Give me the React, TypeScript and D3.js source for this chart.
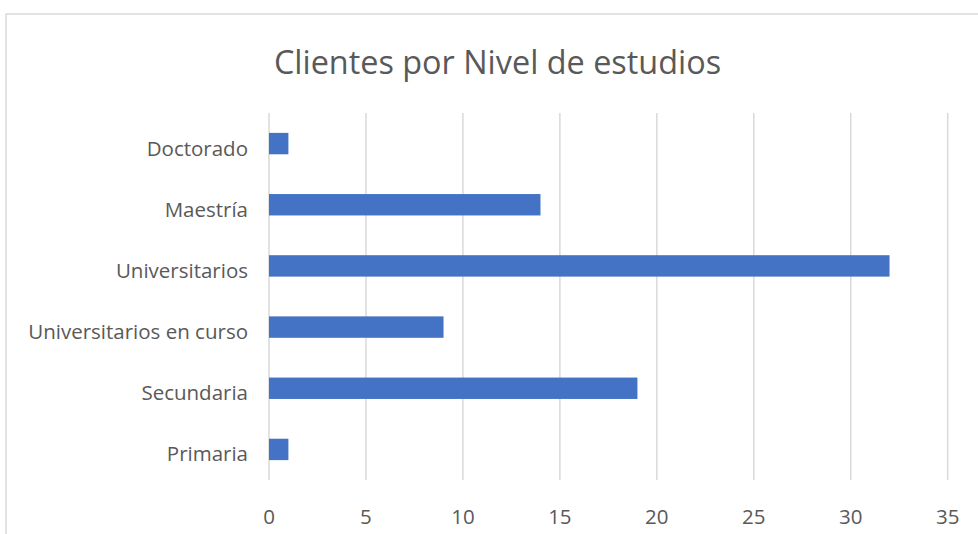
import React from "react";
import * as d3 from "d3";

const categories = ["Doctorado", "Maestría", "Universitarios", "Universitarios en curso", "Secundaria", "Primaria"];
const values = [1, 14, 32, 9, 19, 1];
const xTicks = [0, 5, 10, 15, 20, 25, 30, 35];
const title = "Clientes por Nivel de estudios";

export default function App() {
  const W = 978, H = 534;
  const x = d3.scaleLinear().domain([0, 35]).range([269, 947.7]);
  const y = d3.scaleBand<string>().domain(categories).range([113, 480]).paddingInner(0.65).paddingOuter(0.325);
  const font = "'Open Sans', sans-serif";
  return (
    <svg width={W} height={H} style={{ position: "absolute", left: 0, top: 0, background: "#fff" }}>
      <rect x={6} y={14} width={W + 20} height={H + 20} fill="#fff" stroke="#d9d9d9" strokeWidth={1.5} />
      <text x={497.5} y={74} textAnchor="middle" fontFamily={font} fontSize={32.4} fill="#595959">{title}</text>
      {xTicks.map((t) => (
        <line key={"g" + t} x1={x(t)} x2={x(t)} y1={113} y2={480} stroke="#d9d9d9" strokeWidth={1.5} />
      ))}
      {categories.map((c, i) => (
        <rect key={c} x={x(0)} y={y(c)!} width={x(values[i]) - x(0)} height={y.bandwidth()} fill="#4472c4" />
      ))}
      {categories.map((c) => (
        <text key={"l" + c} x={248} y={y(c)! + y.bandwidth() / 2 + 12} textAnchor="end" fontFamily={font} fontSize={20.5} fill="#595959">{c}</text>
      ))}
      {xTicks.map((t) => (
        <text key={"t" + t} x={x(t)} y={524} textAnchor="middle" fontFamily={font} fontSize={20.5} fill="#595959">{t}</text>
      ))}
    </svg>
  );
}
